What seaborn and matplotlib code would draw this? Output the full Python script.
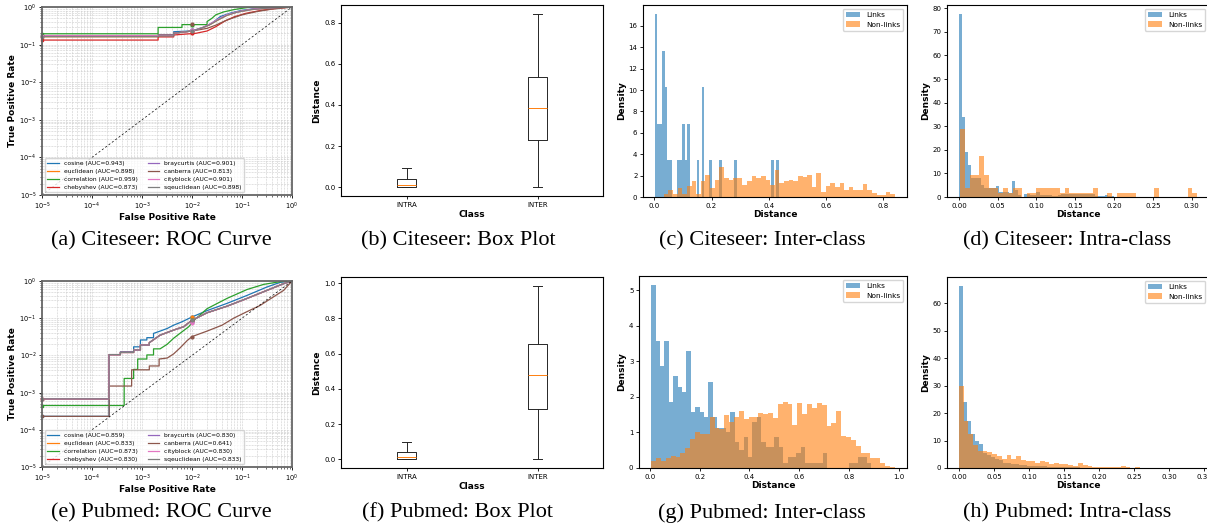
import numpy as np
import pandas as pd
import matplotlib
matplotlib.use("Agg")
import matplotlib.pyplot as plt
import seaborn as sns

# ---------------- ROC data ----------------
metrics = ['cosine', 'euclidean', 'correlation', 'chebyshev',
           'braycurtis', 'canberra', 'cityblock', 'sqeuclidean']
colors = ['tab:blue', 'tab:orange', 'tab:green', 'tab:red',
          'tab:purple', 'tab:brown', 'tab:pink', 'tab:gray']
auc_citeseer = [0.943, 0.898, 0.959, 0.873, 0.901, 0.813, 0.901, 0.898]
auc_pubmed = [0.859, 0.833, 0.873, 0.830, 0.830, 0.641, 0.830, 0.833]

# citeseer roc vertices (fpr, tpr)
cs_cos_fpr = [1e-5, 2.1e-3, 2.1e-3, 4.3e-3, 4.3e-3, 9.3e-3, 0.012, 0.017, 0.025, 0.037, 0.059, 0.093, 0.17, 0.43, 1.0]
cs_cos_tpr = [0.172, 0.172, 0.18, 0.18, 0.22, 0.23, 0.25, 0.29, 0.37, 0.56, 0.69, 0.80, 0.90, 0.96, 1.0]
cs_euc_fpr = [1e-5, 2.1e-3, 2.1e-3, 4.3e-3, 4.3e-3, 0.01, 0.015, 0.022, 0.033, 0.05, 0.08, 0.15, 0.35, 1.0]
cs_euc_tpr = [0.162, 0.162, 0.17, 0.17, 0.2, 0.23, 0.27, 0.33, 0.45, 0.6, 0.73, 0.85, 0.94, 1.0]
cs_cor_fpr = [1e-5, 2.1e-3, 2.1e-3, 6.3e-3, 6.3e-3, 0.02, 0.02, 0.025, 0.03, 0.043, 0.068, 0.11, 0.16, 1.0]
cs_cor_tpr = [0.194, 0.194, 0.286, 0.286, 0.34, 0.34, 0.41, 0.5, 0.62, 0.74, 0.85, 0.94, 1.0, 1.0]
cs_che_fpr = [1e-5, 2.1e-3, 2.1e-3, 4.3e-3, 4.3e-3, 0.012, 0.02, 0.03, 0.045, 0.07, 0.12, 0.25, 0.5, 1.0]
cs_che_tpr = [0.132, 0.132, 0.16, 0.16, 0.18, 0.20, 0.23, 0.30, 0.42, 0.55, 0.68, 0.82, 0.92, 1.0]
cs_bray_fpr = [1e-5, 2.1e-3, 2.1e-3, 4.3e-3, 4.3e-3, 0.01, 0.015, 0.022, 0.033, 0.05, 0.08, 0.15, 0.33, 1.0]
cs_bray_tpr = [0.172, 0.172, 0.175, 0.175, 0.2, 0.23, 0.27, 0.34, 0.47, 0.62, 0.74, 0.86, 0.95, 1.0]
cs_can_fpr = [1e-5, 2.1e-3, 2.1e-3, 4.3e-3, 4.3e-3, 0.01, 0.02, 0.03, 0.05, 0.1, 0.2, 0.4, 1.0]
cs_can_tpr = [0.17, 0.17, 0.18, 0.18, 0.2, 0.23, 0.27, 0.33, 0.45, 0.62, 0.76, 0.88, 1.0]

cs_curves = [(cs_cos_fpr, cs_cos_tpr), (cs_euc_fpr, cs_euc_tpr), (cs_cor_fpr, cs_cor_tpr),
             (cs_che_fpr, cs_che_tpr), (cs_bray_fpr, cs_bray_tpr), (cs_can_fpr, cs_can_tpr),
             (cs_bray_fpr, cs_bray_tpr), (cs_euc_fpr, cs_euc_tpr)]

# pubmed roc vertices
pm_cos_fpr = [1e-5, 2.2e-4, 2.2e-4, 3.7e-4, 3.7e-4, 6.8e-4, 6.8e-4, 9.3e-4, 9.3e-4, 1.25e-3, 1.25e-3, 1.7e-3, 1.7e-3,
              2.3e-3, 3.2e-3, 4.3e-3, 6.3e-3, 0.01, 0.02, 0.05, 0.126, 0.316, 0.58, 1.0]
pm_cos_tpr = [2.3e-4, 2.3e-4, 0.0105, 0.0105, 0.0125, 0.0125, 0.017, 0.017, 0.026, 0.026, 0.03, 0.03, 0.039,
              0.045, 0.053, 0.065, 0.08, 0.108, 0.16, 0.25, 0.41, 0.69, 0.92, 1.0]
pm_grp_fpr = [1e-5, 2.2e-4, 2.2e-4, 3.7e-4, 3.7e-4, 6.8e-4, 6.8e-4, 9.3e-4, 9.3e-4, 1.4e-3, 1.4e-3,
              2.3e-3, 4.3e-3, 6.8e-3, 0.01, 0.02, 0.05, 0.126, 0.316, 0.68, 1.0]
pm_grp_tpr = [6.8e-4, 6.8e-4, 0.0105, 0.0105, 0.012, 0.012, 0.014, 0.014, 0.019, 0.019, 0.022,
              0.035, 0.048, 0.059, 0.088, 0.14, 0.21, 0.34, 0.56, 0.85, 1.0]
pm_cor_fpr = [1e-5, 4.4e-4, 4.4e-4, 6.8e-4, 6.8e-4, 8.2e-4, 8.2e-4, 1.25e-3, 1.25e-3, 1.7e-3, 1.7e-3,
              2.3e-3, 3.2e-3, 4.3e-3, 6.3e-3, 8.6e-3, 0.011, 0.02, 0.05, 0.126, 0.27, 0.58, 1.0]
pm_cor_tpr = [4.5e-4, 4.5e-4, 2.4e-3, 2.4e-3, 4.2e-3, 4.2e-3, 8e-3, 8e-3, 0.0103, 0.0103, 0.015,
              0.015, 0.02, 0.029, 0.043, 0.059, 0.088, 0.18, 0.34, 0.59, 0.81, 0.96, 1.0]
pm_can_fpr = [1e-5, 2.2e-4, 2.2e-4, 6.2e-4, 6.2e-4, 1.4e-3, 1.4e-3, 2.2e-3, 2.2e-3, 3.2e-3, 4.3e-3,
              5.8e-3, 8e-3, 0.01, 0.02, 0.04, 0.068, 0.126, 0.23, 0.42, 0.68, 1.0]
pm_can_tpr = [2.3e-4, 2.3e-4, 1.5e-3, 1.5e-3, 4.1e-3, 4.1e-3, 5.2e-3, 5.2e-3, 8e-3, 8.5e-3, 0.011,
              0.016, 0.025, 0.032, 0.045, 0.065, 0.1, 0.15, 0.22, 0.37, 0.56, 1.0]

pm_curves = [(pm_cos_fpr, pm_cos_tpr), (pm_grp_fpr, pm_grp_tpr), (pm_cor_fpr, pm_cor_tpr),
             (pm_grp_fpr, pm_grp_tpr), (pm_grp_fpr, pm_grp_tpr), (pm_can_fpr, pm_can_tpr),
             (pm_grp_fpr, pm_grp_tpr), (pm_grp_fpr, pm_grp_tpr)]

# small markers at fpr = 1e-2
cs_mark_y = [0.25, 0.233, 0.34, 0.2, 0.24, 0.35, 0.24, 0.23]
pm_mark_y = [0.108, 0.11, 0.088, 0.085, 0.08, 0.032, 0.075, 0.09]

# ---------------- box plot stats ----------------
box_labels = ['INTRA', 'INTER']
cs_box = {'whislo': [0.0, 0.0], 'q1': [0.0, 0.228], 'med': [0.01, 0.385],
          'q3': [0.038, 0.538], 'whishi': [0.092, 0.843]}
pm_box = {'whislo': [0.0, 0.0], 'q1': [0.0, 0.287], 'med': [0.012, 0.48],
          'q3': [0.04, 0.652], 'whishi': [0.097, 0.985]}

# ---------------- histogram densities ----------------
# Citeseer inter-class
cs_inter_links_range = (0.002, 0.435)
cs_inter_links = [17.1, 6.84, 6.84, 13.7, 10.26, 3.42, 3.42, 0, 0, 3.42,
                  3.42, 6.84, 3.42, 6.84, 0, 0, 0, 3.42, 0, 10.26,
                  0, 0, 3.42, 0, 0, 0, 3.42, 0, 0, 0,
                  0, 0, 3.42, 0, 0, 0, 0, 0, 0, 0,
                  0, 0, 0, 0, 0, 0, 0, 3.42, 0, 3.42]
cs_inter_non_range = (0.033, 0.843)
cs_inter_non = [0.3, 0.65, 0.3, 0.8, 0.3, 1.0, 1.45, 0.3, 1.45, 2.1,
                0.8, 1.6, 2.85, 1.8, 1.6, 1.75, 1.75, 1.15, 1.45, 2.0,
                1.8, 2.0, 1.6, 1.15, 2.55, 1.3, 1.45, 1.6, 1.45, 2.0,
                1.9, 2.1, 0.95, 2.25, 0.5, 1.0, 1.3, 0.9, 1.3, 0.7,
                0.95, 0.7, 0.7, 1.2, 0.7, 0.35, 0.15, 0.15, 0.45, 0.3]
# Citeseer intra-class
cs_intra_links_range = (0.0, 0.2)
cs_intra_links = [77.5, 34, 19, 13.5, 8, 8, 8, 5, 4, 4,
                  4, 4, 4.5, 2, 2, 2, 1.5, 6.8, 3, 1,
                  0, 1.2, 1.2, 1, 1, 2, 1, 1, 1, 1,
                  0.5, 0.5, 0.7, 1.2, 1.2, 1.2, 1.2, 1.2, 1.2, 1.2,
                  1.2, 1.2, 1.2, 1.2, 0.5, 0.3, 0.3, 1, 0.3, 0.3]
cs_intra_non_range = (0.002, 0.307)
cs_intra_non = [29, 3.8, 9.5, 9.5, 17.3, 9.5, 3.8, 3.8, 1.9, 3.8,
                1.9, 3.8, 3.8, 0, 1.9, 1.9, 3.8, 3.8, 3.8, 3.8,
                3.8, 1.9, 3.8, 1.9, 1.9, 1.9, 1.9, 1.9, 3.8, 0,
                0, 1.9, 0, 1.9, 1.9, 1.9, 1.9, 0, 0, 0,
                0, 3.8, 0, 0, 0, 0, 0, 0, 3.8, 1.9]
# Pubmed inter-class
pm_inter_links_range = (0.005, 0.89)
pm_inter_links = [5.15, 3.58, 2.87, 3.58, 1.86, 2.58, 2.29, 2.15, 3.29, 1.57,
                  1.72, 1.57, 1.43, 2.43, 1.43, 1.13, 1.13, 1.0, 1.57, 0.72,
                  0.5, 0.86, 0.3, 1.29, 1.43, 0.72, 0.58, 0.58, 0.86, 0.58,
                  0.14, 0.3, 0.3, 0.43, 0.58, 0.14, 0.14, 0.14, 0.14, 0.43,
                  0.0, 0.0, 0.0, 0.0, 0.0, 0.14, 0.14, 0.3, 0.3, 0.14]
pm_inter_non_range = (0.005, 0.985)
pm_inter_non = [0.2, 0.27, 0.2, 0.27, 0.35, 0.3, 0.42, 0.55, 0.82, 1.02,
                0.96, 0.95, 1.45, 1.12, 1.1, 1.5, 1.3, 1.43, 1.6, 1.38,
                1.45, 1.45, 1.55, 1.53, 1.54, 1.4, 1.8, 1.85, 1.8, 1.22,
                1.83, 1.52, 1.8, 1.68, 1.83, 1.78, 1.18, 1.27, 1.6, 0.9,
                0.88, 0.8, 0.62, 0.42, 0.42, 0.27, 0.27, 0.15, 0.05, 0.02]
# Pubmed intra-class
pm_intra_links_range = (0.0, 0.287)
pm_intra_links = [66.3, 24, 17.3, 12.5, 9.7, 8.8, 5.5, 4.7, 4, 3.3,
                  3, 2.0, 1.7, 1.5, 1.3, 1.1, 1.0, 0.9, 0.8, 0.7,
                  0.6, 0.55, 0.5, 0.45, 0.4, 0.35, 0.3, 0.25, 0.2, 0.2,
                  0.15, 0.1, 0.1, 0.1, 0.1, 0.1, 0.05, 0.05, 0.05, 0.05,
                  0.05, 0.05, 0.05, 0.05, 0.0, 0.0, 0.0, 0.0, 0.0, 0.05]
pm_intra_non_range = (0.0, 0.34)
pm_intra_non = [30, 17.3, 12.5, 8.5, 6.3, 6.3, 6.0, 5.2, 4.3, 3.4,
                4.8, 3.1, 4.2, 3.0, 2.6, 2.6, 1.7, 2.6, 2.2, 1.5,
                1.8, 1.5, 1.3, 1.1, 0.6, 2.0, 1.2, 0.8, 0.5, 0.5,
                0.5, 0.5, 0.4, 0.4, 0.6, 0.2, 0.0, 0.4, 0.05, 0.05,
                0, 0, 0, 0.03, 0, 0, 0, 0, 0, 0.02]

captions = ['(a) Citeseer: ROC Curve', '(b) Citeseer: Box Plot',
            '(c) Citeseer: Inter-class', '(d) Citeseer: Intra-class',
            '(e) Pubmed: ROC Curve', '(f) Pubmed: Box Plot',
            '(g) Pubmed: Inter-class', '(h) Pubmed: Intra-class']

W, H = 1207, 527
TICK = 5
LAB = 6.5


def rect(x0, y0, x1, y1):
    return [x0 / W, 1 - y1 / H, (x1 - x0) / W, (y1 - y0) / H]


def style_ticks(ax, size=TICK):
    ax.tick_params(labelsize=size, length=2.5, width=0.6, pad=1.5)
    ax.tick_params(which='minor', length=1.5, width=0.4)
    for s in ax.spines.values():
        s.set_linewidth(0.8)


def roc_panel(ax, curves, aucs, mark_y):
    ax.set_xscale('log')
    ax.set_yscale('log')
    for (fpr, tpr), name, auc, c in zip(curves, metrics, aucs, colors):
        sns.lineplot(x=fpr, y=tpr, sort=False, estimator=None, color=c, lw=0.9,
                     label=f'{name} (AUC={auc:.3f})', ax=ax)
    for (fpr, tpr), y, c in zip(curves, mark_y, colors):
        ax.plot([fpr[0]], [tpr[0]], 's', ms=2, color=c, clip_on=False)
        ax.plot([1e-2], [y], 'o', ms=2, color=c)
    ax.plot([1e-5, 1], [1e-5, 1], color='k', lw=0.5, ls=(0, (3, 3)))
    ax.set_xlim(1e-5, 1)
    ax.set_ylim(1e-5, 1)
    ax.grid(True, which='both', color='0.8', lw=0.4, ls='--')
    style_ticks(ax, 4.8)
    for s in ax.spines.values():
        s.set_linewidth(1.3)
        s.set_color('0.4')
    ax.set_xlabel('False Positive Rate', fontsize=LAB, fontweight='bold', labelpad=1)
    ax.set_ylabel('True Positive Rate', fontsize=LAB, fontweight='bold', labelpad=2)
    ax.legend(loc='lower left', ncol=2, fontsize=4.3, handlelength=2.0,
              columnspacing=1.6, borderpad=0.4, labelspacing=0.45)


def box_panel(ax, st):
    stats = []
    for i, lab in enumerate(box_labels):
        stats.append({'label': lab, 'whislo': st['whislo'][i], 'q1': st['q1'][i],
                      'med': st['med'][i], 'q3': st['q3'][i], 'whishi': st['whishi'][i],
                      'fliers': []})
    lp = dict(color='0.15', lw=0.7)
    ax.bxp(stats, positions=[1, 2], widths=0.15, showfliers=False,
           boxprops=lp, whiskerprops=lp, capprops=lp,
           medianprops=dict(color='tab:orange', lw=0.7))
    style_ticks(ax)
    ax.set_xlabel('Class', fontsize=LAB, fontweight='bold', labelpad=2)
    ax.set_ylabel('Distance', fontsize=LAB, fontweight='bold', labelpad=2)


def hist_panel(ax, links_rng, links, non_rng, non):
    for rng, h, c, lab in [(links_rng, links, 'tab:blue', 'Links'),
                           (non_rng, non, 'tab:orange', 'Non-links')]:
        edges = np.linspace(rng[0], rng[1], len(h) + 1)
        df = pd.DataFrame({'dist': (edges[:-1] + edges[1:]) / 2, 'dens': h})
        sns.histplot(data=df, x='dist', weights='dens', bins=list(edges), stat='count',
                     color=c, alpha=0.6, linewidth=0, label=lab, ax=ax)
    style_ticks(ax)
    ax.set_xlabel('Distance', fontsize=LAB, fontweight='bold', labelpad=1)
    ax.set_ylabel('Density', fontsize=LAB, fontweight='bold', labelpad=2)
    ax.legend(loc='upper right', fontsize=5.3)


fig = plt.figure(figsize=(W / 100, H / 100), dpi=100)

ax_a = fig.add_axes(rect(42, 7, 292, 195))
ax_b = fig.add_axes(rect(341, 5, 603, 196))
ax_c = fig.add_axes(rect(643, 5, 907, 197))
ax_d = fig.add_axes(rect(947, 5, 1209, 197))
ax_e = fig.add_axes(rect(42, 281, 292, 467))
ax_f = fig.add_axes(rect(341, 277, 603, 468))
ax_g = fig.add_axes(rect(639, 276, 907, 468))
ax_h = fig.add_axes(rect(947, 277, 1209, 468))

roc_panel(ax_a, cs_curves, auc_citeseer, cs_mark_y)
box_panel(ax_b, cs_box)
hist_panel(ax_c, cs_inter_links_range, cs_inter_links, cs_inter_non_range, cs_inter_non)
hist_panel(ax_d, cs_intra_links_range, cs_intra_links, cs_intra_non_range, cs_intra_non)
roc_panel(ax_e, pm_curves, auc_pubmed, pm_mark_y)
box_panel(ax_f, pm_box)
hist_panel(ax_g, pm_inter_links_range, pm_inter_links, pm_inter_non_range, pm_inter_non)
hist_panel(ax_h, pm_intra_links_range, pm_intra_links, pm_intra_non_range, pm_intra_non)

cap_x = [161, 458, 762, 1067]
for i, cap in enumerate(captions):
    y = 241 if i < 4 else 513
    fig.text(cap_x[i % 4] / W, 1 - y / H, cap, ha='center', va='center',
             fontsize=16, family=['Liberation Serif', 'DejaVu Serif'])

fig.savefig('out.png', dpi=100)
